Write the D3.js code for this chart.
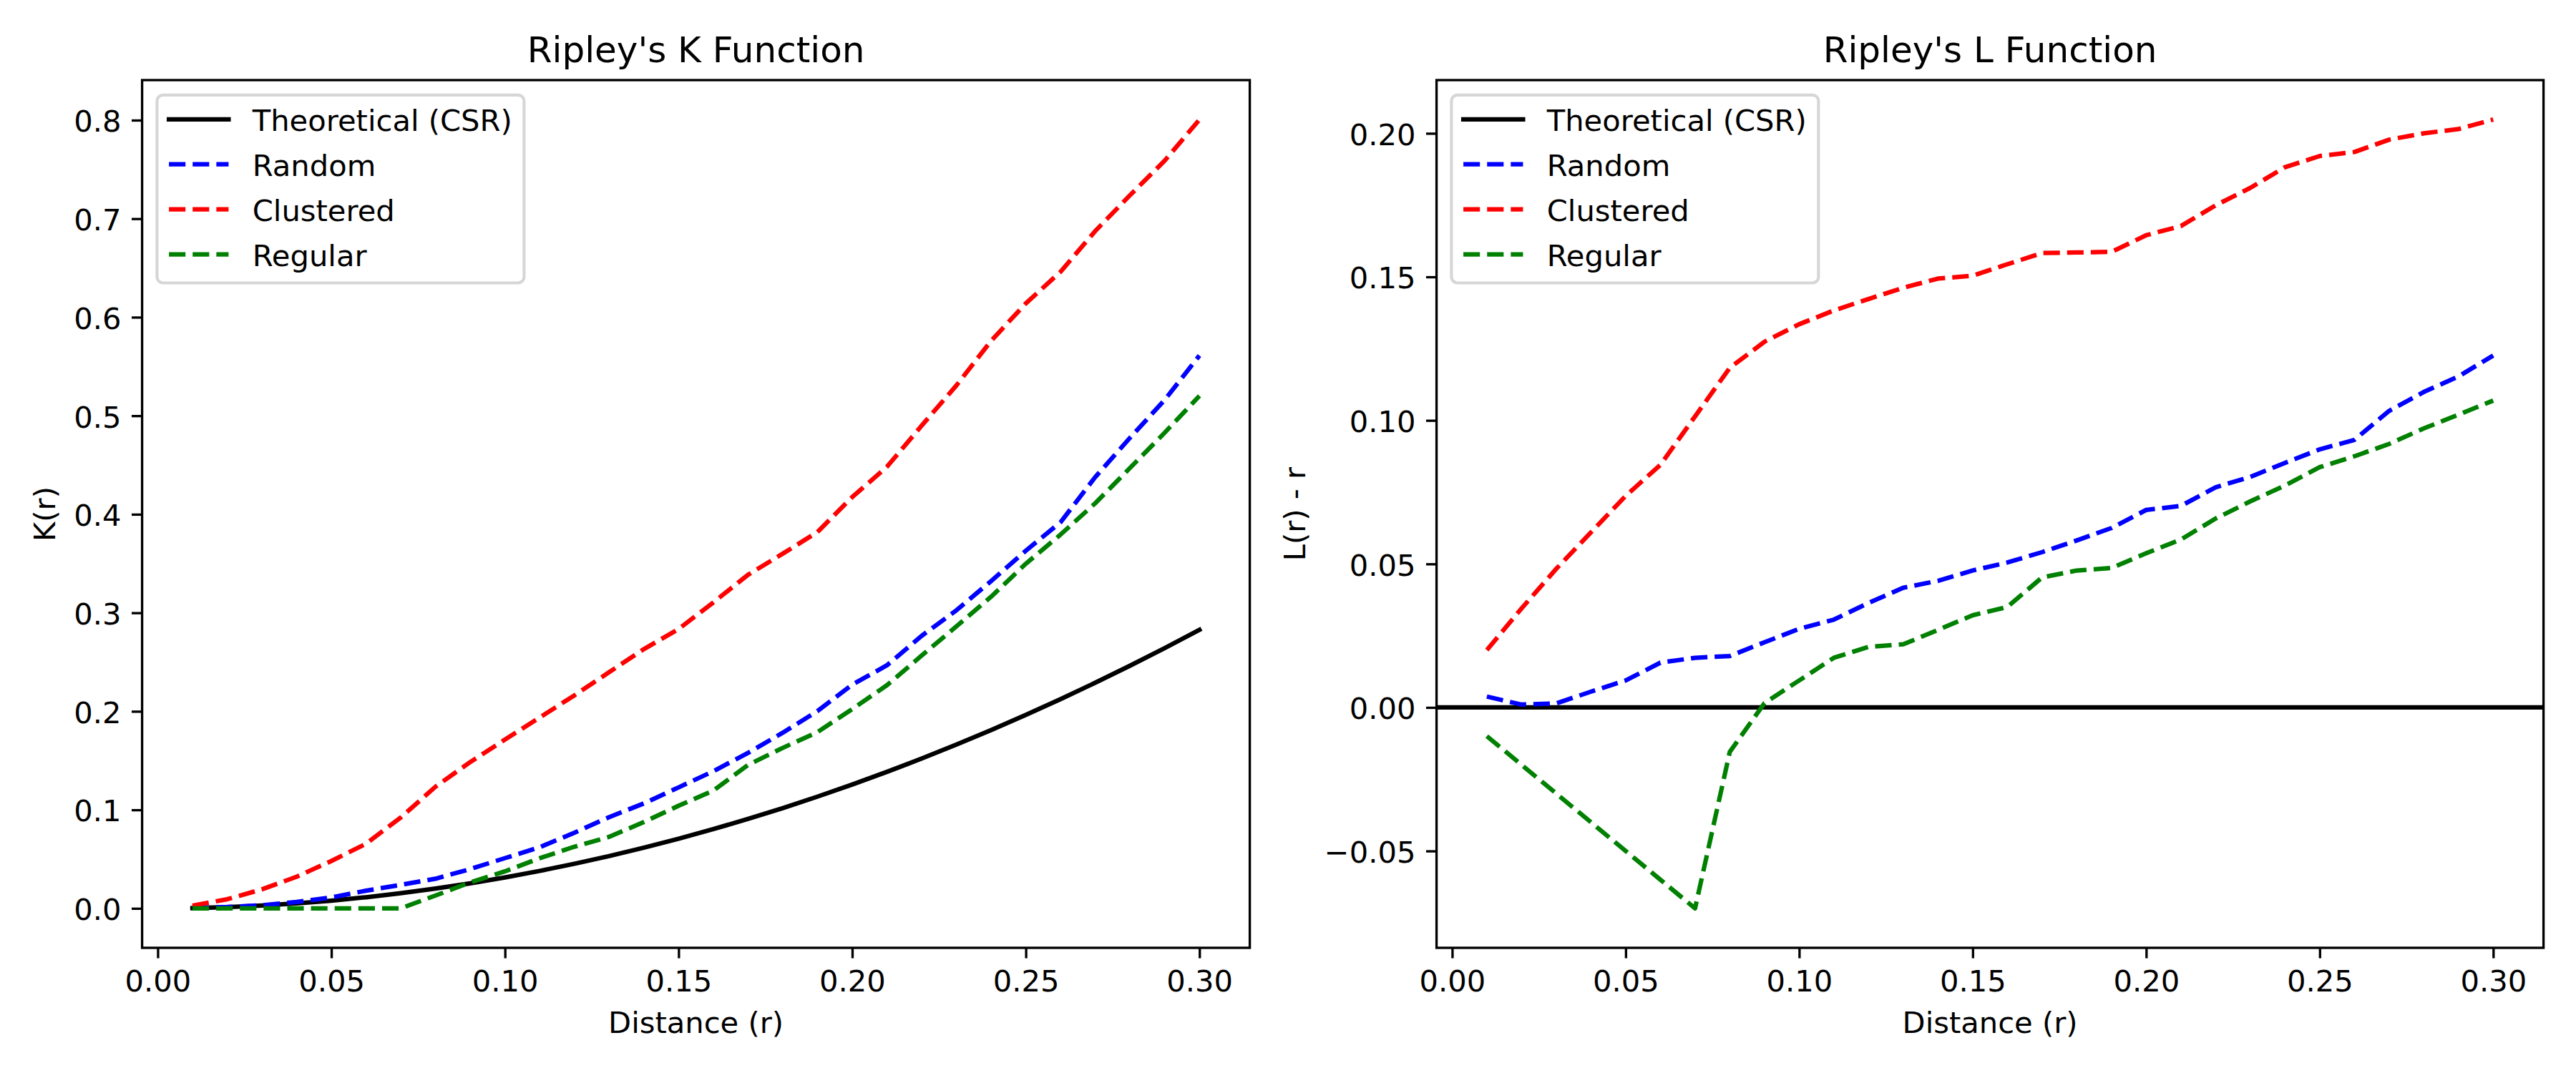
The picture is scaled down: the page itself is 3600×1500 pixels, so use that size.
<!DOCTYPE html>
<html>
<head>
<meta charset="utf-8">
<script src="https://cdn.jsdelivr.net/npm/d3@7"></script>
<style>
  html, body { margin: 0; padding: 0; background: #ffffff; }
  svg { display: block; }
  text { font-family: "DejaVu Sans", sans-serif; fill: #000; }
</style>
</head>
<body>
<svg id="chart" width="3600" height="1500"></svg>
<script>
// ---------------- data ----------------
const distances = [0.01, 0.02, 0.03, 0.04, 0.05, 0.06, 0.07, 0.08, 0.09, 0.10,
                   0.11, 0.12, 0.13, 0.14, 0.15, 0.16, 0.17, 0.18, 0.19, 0.20,
                   0.21, 0.22, 0.23, 0.24, 0.25, 0.26, 0.27, 0.28, 0.29, 0.30];

const kTheoretical = [0.000314, 0.001257, 0.002827, 0.005027, 0.007854, 0.011310, 0.015394, 0.020106, 0.025447, 0.031416,
                      0.038013, 0.045239, 0.053093, 0.061575, 0.070686, 0.080425, 0.090792, 0.101788, 0.113411, 0.125664,
                      0.138544, 0.152053, 0.166190, 0.180956, 0.196350, 0.212372, 0.229022, 0.246301, 0.264208, 0.282743];
const kRandom = [0.0006, 0.0014, 0.0031, 0.0065, 0.0111, 0.0180, 0.0239, 0.0301, 0.0399, 0.0510,
                 0.0621, 0.0768, 0.0926, 0.1065, 0.1228, 0.1392, 0.1578, 0.1783, 0.2003, 0.2270,
                 0.2467, 0.2766, 0.3025, 0.3322, 0.3630, 0.3919, 0.4378, 0.4776, 0.5161, 0.5611];
const kClustered = [0.0028, 0.0093, 0.0193, 0.0321, 0.0481, 0.0656, 0.0923, 0.1235, 0.1485, 0.1713,
                    0.1937, 0.2162, 0.2397, 0.2631, 0.2835, 0.3105, 0.3386, 0.3600, 0.3820, 0.4174,
                    0.4482, 0.4899, 0.5307, 0.5760, 0.6140, 0.6461, 0.6875, 0.7238, 0.7589, 0.8006];
const kRegular = [0.0, 0.0, 0.0, 0.0, 0.0, 0.0, 0.0, 0.0131, 0.0263, 0.0376,
                  0.0509, 0.0626, 0.0726, 0.0876, 0.1042, 0.1195, 0.1456, 0.1629, 0.1789, 0.2022,
                  0.2265, 0.2566, 0.2862, 0.3163, 0.3498, 0.3794, 0.4112, 0.4470, 0.4828, 0.5202];

const lTheoretical = 0.0;   // reference line L(r) - r = 0 (full axis width)
const lRandom = [0.0038, 0.0010, 0.0014, 0.0055, 0.0094, 0.0156, 0.0173, 0.0179, 0.0227, 0.0274,
                 0.0306, 0.0364, 0.0417, 0.0441, 0.0477, 0.0505, 0.0541, 0.0582, 0.0625, 0.0688,
                 0.0702, 0.0767, 0.0803, 0.0852, 0.0899, 0.0932, 0.1033, 0.1099, 0.1153, 0.1226];
const lClustered = [0.0200, 0.0345, 0.0483, 0.0610, 0.0737, 0.0845, 0.1014, 0.1183, 0.1274, 0.1335,
                    0.1383, 0.1423, 0.1462, 0.1494, 0.1504, 0.1544, 0.1583, 0.1585, 0.1587, 0.1645,
                    0.1677, 0.1749, 0.1810, 0.1882, 0.1921, 0.1935, 0.1978, 0.2000, 0.2015, 0.2048];
const lRegular = [-0.0100, -0.0200, -0.0300, -0.0400, -0.0500, -0.0600, -0.0700, -0.0155, 0.0015, 0.0094,
                  0.0173, 0.0211, 0.0220, 0.0270, 0.0321, 0.0350, 0.0453, 0.0477, 0.0486, 0.0537,
                  0.0585, 0.0658, 0.0718, 0.0773, 0.0837, 0.0875, 0.0918, 0.0972, 0.1020, 0.1069];

const xTicks = [0.00, 0.05, 0.10, 0.15, 0.20, 0.25, 0.30];
const kTicks = [0.0, 0.1, 0.2, 0.3, 0.4, 0.5, 0.6, 0.7, 0.8];
const lTicks = [-0.05, 0.00, 0.05, 0.10, 0.15, 0.20];

const seriesNames = ["Theoretical (CSR)", "Random", "Clustered", "Regular"];
const seriesColors = ["#000000", "#0000ff", "#ff0000", "#008000"];
const seriesDashed = [false, true, true, true];
const titles = ["Ripley's K Function", "Ripley's L Function"];
const xLabel = "Distance (r)";
const yLabels = ["K(r)", "L(r) - r"];

// ---------------- style constants ----------------
const PX = 300 / 72;            // points -> pixels at 300 dpi
const FS = 10 * PX;             // 10pt font
const TITLE_FS = 12 * PX;
const LW = 1.5 * PX;            // line width
const SPINE_W = 0.8 * PX;
const TICK_LEN = 3.5 * PX;
const TICK_PAD = 3.5 * PX;
const LABEL_PAD = 4 * PX;
const DASH = [3.7 * 1.5 * PX, 1.6 * 1.5 * PX].join(",");

const svg = d3.select("#chart");
svg.append("rect").attr("width", 3600).attr("height", 1500).attr("fill", "#ffffff");

function paddedExtent(values) {
  const lo = d3.min(values), hi = d3.max(values);
  const m = (hi - lo) * 0.05;
  return [lo - m, hi + m];
}

function drawPanel(opts) {
  const { left, right, top, bottom, title, yLabel, yTicks, yFormat, series } = opts;
  const g = svg.append("g");
  const allY = [];
  series.forEach(s => { if (Array.isArray(s.values)) allY.push(...s.values); else allY.push(s.values); });

  const x = d3.scaleLinear().domain(paddedExtent(distances)).range([left, right]);
  const y = d3.scaleLinear().domain(paddedExtent(allY)).range([bottom, top]);

  const clipId = "clip" + Math.round(left);
  svg.append("clipPath").attr("id", clipId)
    .append("rect").attr("x", left).attr("y", top).attr("width", right - left).attr("height", bottom - top);

  const plot = g.append("g").attr("clip-path", `url(#${clipId})`);
  const lineGen = d3.line().x((d, i) => x(distances[i])).y(d => y(d));

  series.forEach(s => {
    if (Array.isArray(s.values)) {
      plot.append("path")
        .datum(s.values)
        .attr("d", lineGen)
        .attr("fill", "none")
        .attr("stroke", s.color)
        .attr("stroke-width", LW)
        .attr("stroke-linejoin", "round")
        .attr("stroke-linecap", s.dashed ? "butt" : "square")
        .attr("stroke-dasharray", s.dashed ? DASH : null);
    } else {
      // horizontal reference line spanning the whole axis
      plot.append("line")
        .attr("x1", x.range()[0]).attr("x2", x.range()[1])
        .attr("y1", y(s.values)).attr("y2", y(s.values))
        .attr("stroke", s.color).attr("stroke-width", LW)
        .attr("stroke-dasharray", s.dashed ? DASH : null);
    }
  });

  // axes
  const xAxis = d3.axisBottom(x).tickValues(xTicks).tickFormat(d3.format(".2f"))
    .tickSizeInner(TICK_LEN).tickSizeOuter(0).tickPadding(TICK_PAD);
  const gx = g.append("g").attr("transform", `translate(0,${bottom})`).call(xAxis);
  const yAxis = d3.axisLeft(y).tickValues(yTicks).tickFormat(yFormat)
    .tickSizeInner(TICK_LEN).tickSizeOuter(0).tickPadding(TICK_PAD);
  const gy = g.append("g").attr("transform", `translate(${left},0)`).call(yAxis);
  [gx, gy].forEach(a => {
    a.select(".domain").remove();
    a.selectAll(".tick line").attr("stroke", "#000").attr("stroke-width", SPINE_W);
    a.selectAll(".tick text").attr("font-size", FS).attr("font-family", "DejaVu Sans").attr("fill", "#000");
  });
  gx.selectAll(".tick text").attr("dy", "0.76em");
  gy.selectAll(".tick text").attr("dy", "0.38em");

  // spines
  g.append("rect").attr("x", left).attr("y", top).attr("width", right - left).attr("height", bottom - top)
    .attr("fill", "none").attr("stroke", "#000").attr("stroke-width", SPINE_W);

  // title
  g.append("text").attr("x", (left + right) / 2).attr("y", top - 6 * PX)
    .attr("text-anchor", "middle").attr("font-size", TITLE_FS).text(title);

  // x label
  g.append("text").attr("x", (left + right) / 2)
    .attr("y", bottom + TICK_LEN + TICK_PAD + FS * 0.99 + LABEL_PAD + FS * 0.76)
    .attr("text-anchor", "middle").attr("font-size", FS).text(xLabel);

  // y label: placed left of the widest tick label
  let minX = Infinity;
  gy.selectAll(".tick text").each(function () {
    const w = this.getComputedTextLength();
    minX = Math.min(minX, left - TICK_LEN - TICK_PAD - w);
  });
  const base = minX - LABEL_PAD - FS * 0.236;
  g.append("text").attr("transform", `translate(${base},${(top + bottom) / 2}) rotate(-90)`)
    .attr("text-anchor", "middle").attr("font-size", FS).text(yLabel);

  // legend
  const pad = 0.4 * FS, hlen = 2.0 * FS, htpad = 0.8 * FS, axpad = 0.5 * FS;
  const fx = left + axpad, fy = top + axpad;
  const lg = g.append("g");
  const frame = lg.append("rect");
  const rowStep = 62.9, firstRow = 34;
  let maxW = 0;
  series.forEach((s, i) => {
    const cy = fy + firstRow + i * rowStep;
    lg.append("line").attr("x1", fx + pad).attr("x2", fx + pad + hlen)
      .attr("y1", cy).attr("y2", cy)
      .attr("stroke", s.color).attr("stroke-width", LW)
      .attr("stroke-linecap", s.dashed ? "butt" : "square")
      .attr("stroke-dasharray", s.dashed ? DASH : null);
    const t = lg.append("text").attr("x", fx + pad + hlen + htpad).attr("y", cy + 16)
      .attr("font-size", FS).text(s.name);
    maxW = Math.max(maxW, t.node().getComputedTextLength());
  });
  const fw = pad + hlen + htpad + maxW + pad;
  const fh = firstRow + (series.length - 1) * rowStep + 40;
  frame.attr("x", fx).attr("y", fy).attr("width", fw).attr("height", fh)
    .attr("rx", 0.2 * FS).attr("ry", 0.2 * FS)
    .attr("fill", "#ffffff").attr("fill-opacity", 0.8)
    .attr("stroke", "#cccccc").attr("stroke-opacity", 0.8).attr("stroke-width", 1 * PX);
}

const minusFmt = d => d3.format(".2f")(d).replace("-", "\u2212");
const mk = vals => vals.map((v, i) => ({ name: seriesNames[i], color: seriesColors[i], dashed: seriesDashed[i], values: v }));

drawPanel({
  left: 198.6, right: 1746.6, top: 112, bottom: 1325,
  title: titles[0], yLabel: yLabels[0], yTicks: kTicks, yFormat: d3.format(".1f"),
  series: mk([kTheoretical, kRandom, kClustered, kRegular])
});

drawPanel({
  left: 2007.6, right: 3554.6, top: 112, bottom: 1325,
  title: titles[1], yLabel: yLabels[1], yTicks: lTicks, yFormat: minusFmt,
  series: mk([lTheoretical, lRandom, lClustered, lRegular])
});
</script>
</body>
</html>
